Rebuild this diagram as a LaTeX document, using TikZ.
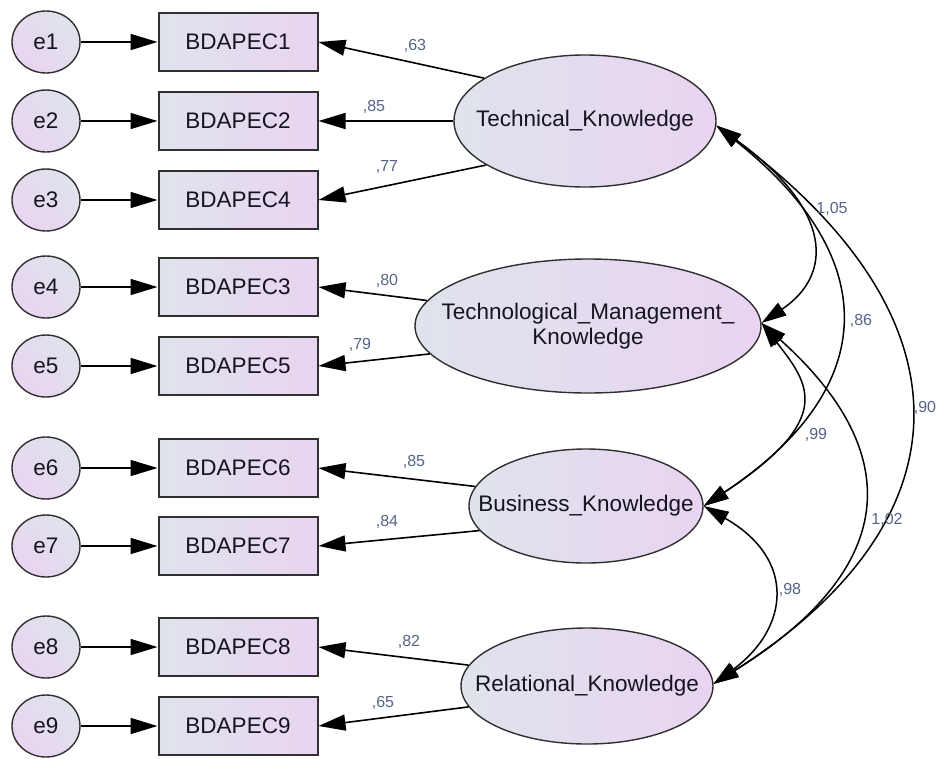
\documentclass[tikz,border=0pt]{standalone}
\usepackage{fontspec}
\setmainfont{Liberation Sans}
\usetikzlibrary{arrows.meta,shapes.geometric}
\definecolor{greyblue}{HTML}{DFE3EC}
\definecolor{lilac}{HTML}{E9D4F1}
\definecolor{edgegrey}{HTML}{303030}
\definecolor{coef}{RGB}{85,100,135}
\definecolor{ink}{HTML}{151520}
\begin{document}
\begin{tikzpicture}[x=1pt,y=-1pt,
  obs/.style={rectangle, draw=edgegrey, line width=2pt, left color=greyblue, right color=lilac,
    minimum width=159pt, minimum height=58pt, inner sep=0pt, text=ink,
    font=\fontsize{22.5}{27}\selectfont},
  err/.style={ellipse, draw=edgegrey, line width=1.4pt, left color=lilac, right color=greyblue,
    shading angle=135, minimum width=68pt, minimum height=62pt, inner sep=0pt, text=ink,
    font=\fontsize{22.5}{27}\selectfont},
  latent/.style={ellipse, draw=edgegrey, line width=1.4pt, left color=greyblue, right color=lilac,
    inner sep=0pt},
  lattext/.style={inner sep=0pt, text=ink, align=center, font=\fontsize{22.5}{27}\selectfont},
  coefl/.style={inner sep=0pt, text=coef, font=\fontsize{16}{19}\selectfont},
  path1/.style={line width=1.6pt, -{Triangle[length=27pt,width=16pt]}},
  cov/.style={line width=1.5pt, {Triangle[length=25pt,width=15pt]}-{Triangle[length=25pt,width=15pt]}}
]
\useasboundingbox (0,0) rectangle (941,758);

% error terms
\node[err] (e1) at (46,42) {e1};
\node[err] (e2) at (46,121) {e2};
\node[err] (e3) at (46,200) {e3};
\node[err] (e4) at (46,287) {e4};
\node[err] (e5) at (46,366) {e5};
\node[err] (e6) at (46,468) {e6};
\node[err] (e7) at (46,546) {e7};
\node[err] (e8) at (46,647) {e8};
\node[err] (e9) at (46,726) {e9};

% observed indicators
\node[obs] (b1) at (238,42) {BDAPEC1};
\node[obs] (b2) at (238,121) {BDAPEC2};
\node[obs] (b4) at (238,200) {BDAPEC4};
\node[obs] (b3) at (238,287) {BDAPEC3};
\node[obs] (b5) at (238,366) {BDAPEC5};
\node[obs] (b6) at (238,468) {BDAPEC6};
\node[obs] (b7) at (238,546) {BDAPEC7};
\node[obs] (b8) at (238,647) {BDAPEC8};
\node[obs] (b9) at (238,726) {BDAPEC9};

% latent factors
\node[latent, minimum width=262pt, minimum height=132pt] (tech) at (585,121) {};
\node[lattext] (techt) at (tech) {Technical\_Knowledge};
\node[latent, minimum width=346pt, minimum height=134pt] (tmk) at (588,326) {};
\node[lattext] (tmkt) at (tmk) {Technological\_Management\_\\[-2pt]Knowledge};
\node[latent, minimum width=234pt, minimum height=114pt] (bk) at (586,506) {};
\node[lattext] (bkt) at (bk) {Business\_Knowledge};
\node[latent, minimum width=252pt, minimum height=116pt] (rk) at (587,686) {};
\node[lattext] (rkt) at (rk) {Relational\_Knowledge};

% error paths
\draw[path1] (e1) -- (b1);
\draw[path1] (e2) -- (b2);
\draw[path1] (e3) -- (b4);
\draw[path1] (e4) -- (b3);
\draw[path1] (e5) -- (b5);
\draw[path1] (e6) -- (b6);
\draw[path1] (e7) -- (b7);
\draw[path1] (e8) -- (b8);
\draw[path1] (e9) -- (b9);

% loadings
\draw[path1] (tech.157) -- (b1.east);
\draw[path1] (tech.180) -- (b2.east);
\draw[path1] (tech.-156) -- (b4.east);
\draw[path1] (tmk.171.5) -- (b3.east);
\draw[path1] (tmk.-170.5) -- (b5.east);
\draw[path1] (bk.170) -- (b6.east);
\draw[path1] (bk.-167.5) -- (b7.east);
\draw[path1] (rk.170) -- (b8.east);
\draw[path1] (rk.-170) -- (b9.east);

\node[coefl] (l1) at (415,46) {,63};
\node[coefl] (l2) at (374,107) {,85};
\node[coefl] (l4) at (387,167) {,77};
\node[coefl] (l3) at (387,281) {,80};
\node[coefl] (l5) at (360,345) {,79};
\node[coefl] (l6) at (414,462) {,85};
\node[coefl] (l7) at (387,522) {,84};
\node[coefl] (l8) at (409,642) {,82};
\node[coefl] (l9) at (383,703) {,65};

% covariances
\draw[cov] (tech.-2) .. controls (834,211) and (833,275) .. (tmk.1);
\draw[cov] (tech.-2) .. controls (882,257) and (883,387) .. (bk.east);
\draw[cov] (tech.-2) .. controls (975,318) and (972,520) .. (rk.1);
\draw[cov] (tmk.1) .. controls (810,385) and (835,419) .. (bk.east);
\draw[cov] (tmk.1) .. controls (901,448) and (906,564) .. (rk.1);
\draw[cov] (bk.east) .. controls (798,560) and (788,629) .. (rk.1);

\node[coefl] (c1) at (832,209) {1,05};
\node[coefl] (c2) at (861,321) {,86};
\node[coefl] (c3) at (925,408) {,90};
\node[coefl] (c4) at (816,435) {,99};
\node[coefl] (c5) at (887,520) {1,02};
\node[coefl] (c6) at (790,590) {,98};
\end{tikzpicture}
\end{document}
